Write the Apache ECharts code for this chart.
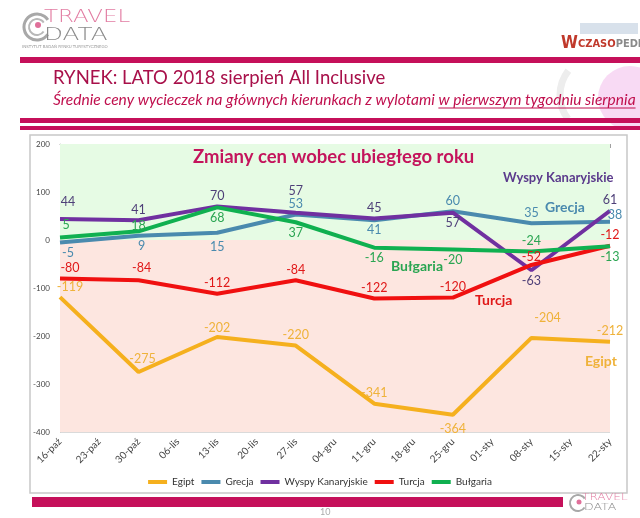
<!DOCTYPE html>
<html><head><meta charset="utf-8">
<script src="https://cdn.jsdelivr.net/npm/echarts@6/dist/echarts.min.js"></script>
<style>html,body{margin:0;padding:0;background:#fff}#c{width:640px;height:518px}</style>
</head><body><div id="c"></div>
<script>
// ---- data ----
const categories = ['16-paź','23-paź','30-paź','06-lis','13-lis','20-lis','27-lis','04-gru','11-gru','18-gru','25-gru','01-sty','08-sty','15-sty','22-sty'];
const egipt    = [-119,null,-275,null,-202,null,-220,null,-341,null,-364,null,-204,null,-212];
const grecja   = [-5,null,9,null,15,null,53,null,41,null,60,null,35,null,38];
const wyspy    = [44,null,41,null,70,null,57,null,45,null,57,null,-63,null,61];
const turcja   = [-80,null,-84,null,-112,null,-84,null,-122,null,-120,null,-52,null,-12];
const bulgaria = [5,null,18,null,68,null,37,null,-16,null,-20,null,-24,null,-13];
const seriesNames = ['Egipt','Grecja','Wyspy Kanaryjskie','Turcja','Bułgaria'];
const yTicks = {min:-400, max:200, interval:100};

// ---- styles (label placement per point) ----
const colors = {Egipt:'#F5B01E', Grecja:'#4A8AAE', Wyspy:'#7030A0', Turcja:'#F01010', Bulgaria:'#10B050'};
const labelColors = {Egipt:'#EFB23A', Grecja:'#4A8AAE', Wyspy:'#4E3F78', Turcja:'#E01818', Bulgaria:'#2AA552'};
const T='top', B='bottom';
const egiptPos = [[T,10,0],[T,4,-2],[T,0,2],[T,0,0],[T,0,0],[B,0,4],[T,16,-9],[T,0,0]];
const grecjaPos = [[B,8,0],[B,3,0],[B,0,4],[T,0,0],[B,0,-1],[T,0,0],[T,0,0],[T,5,4]];
const wyspyPos = [[T,8,-6],[T,0,0],[T,0,0],[T,0,-11],[T,0,0],[B,0,0],[B,0,0],[T,0,0]];
const turcjaPos = [[T,10,0],[T,3,-2],[T,0,0],[T,0,0],[T,0,0],[T,0,0],[T,0,3],[T,0,0]];
const bulgariaPos = [[T,6,-2],[T,0,5],[B,0,0],[B,0,0],[B,0,0],[B,0,0],[T,0,0],[B,0,0]];

const FONT = 'Lato';

function build(values, pos){
  let k = 0;
  return values.map(v => {
    if (v === null) return null;
    const p = pos[k++];
    return {value: v, label: {position: p[0], offset: [p[1], p[2]]}};
  });
}
function mkSeries(name, values, pos, col, lc){
  return {
    name: name, type: 'line', xAxisIndex: 0, connectNulls: true,
    data: build(values, pos), showSymbol: true, showAllSymbol: true,
    symbol: 'circle', symbolSize: 0.1,
    lineStyle: {color: col, width: 4}, itemStyle: {color: col},
    label: {show: true, color: lc, fontSize: 12.5, fontFamily: FONT, distance: 4},
    emphasis: {disabled: true}, z: 3
  };
}

// text measuring for the subtitle
const ctx = document.createElement('canvas').getContext('2d');
function tw(font, s){ ctx.font = font; return ctx.measureText(s).width; }
const sub1 = 'Średnie ceny wycieczek na głównych kierunkach z wylotami ';
const sub2 = 'w pierwszym tygodniu sierpnia';
const w0 = tw('italic 14.5px ' + FONT, sub1 + sub2);
const subSize = 14.5 * 583 / w0;
const subFont = 'italic ' + subSize.toFixed(2) + 'px ' + FONT;
const sub1w = tw(subFont, sub1);
const sub2w = tw(subFont, sub2);

const chart = echarts.init(document.getElementById('c'), null, {renderer: 'canvas'});

const g = [];
// slide header
g.push({type:'rect', shape:{x:20,y:57,width:620,height:6}, style:{fill:'#C5105A'}, z:1});
g.push({type:'rect', shape:{x:20,y:118,width:620,height:5}, style:{fill:'#C5105A'}, z:1});
g.push({type:'rect', shape:{x:20,y:126,width:620,height:4}, style:{fill:'#C5105A'}, z:1});
// right globe decoration
g.push({type:'circle', shape:{cx:630,cy:98,r:32}, style:{fill:'#F6CDF0', opacity:0.75}, z:0});
g.push({type:'arc', shape:{cx:600,cy:95,r:40,startAngle:2.5,endAngle:3.8}, style:{stroke:'#EDEDED', lineWidth:7, fill:'none'}, z:0});
// Travel Data logo
g.push({type:'arc', shape:{cx:37,cy:27,r:13,startAngle:0.6,endAngle:5.7}, style:{fill:'none', stroke:'#A8A8A8', lineWidth:3}, z:1});
g.push({type:'arc', shape:{cx:37,cy:27,r:8,startAngle:0.6,endAngle:5.7}, style:{fill:'none', stroke:'#B8B8B8', lineWidth:2}, z:1});
g.push({type:'circle', shape:{cx:38,cy:25,r:3}, style:{fill:'#E0709A'}, z:1});
g.push({type:'text', x:44, y:9, scaleX:1.35, style:{text:'TRAVEL', fill:'#E27CA2', font:'300 17px "DejaVu Sans"'}, z:2});
g.push({type:'text', x:44, y:27, scaleX:1.45, style:{text:'DATA', fill:'#8A8A8A', font:'300 17px "DejaVu Sans"'}, z:2});
g.push({type:'text', left:22, top:45, style:{text:'INSTYTUT BADAŃ RYNKU TURYSTYCZNEGO', fill:'#999', font:'4px "DejaVu Sans"'}, z:2});
// Wczasopedia logo
g.push({type:'rect', shape:{x:580,y:23,width:58,height:11}, style:{fill:'#C8D4E2', opacity:0.7}, z:1});
g.push({type:'text', x:561, y:35, style:{text:'W', fill:'#C0392B', font:'bold 17px "DejaVu Sans Condensed", "DejaVu Sans"'}, z:2});
g.push({type:'text', x:578, y:39, style:{text:'{a|CZASO}{b|PEDIA}', rich:{
  a:{fill:'#C0392B', font:'bold 11px "DejaVu Sans Condensed", "DejaVu Sans"'},
  b:{fill:'#8A8A8A', font:'bold 11px "DejaVu Sans Condensed", "DejaVu Sans"'}}}, z:2});
// titles
g.push({type:'text', left:53, top:69, style:{text:'RYNEK: LATO 2018 sierpień All Inclusive', fill:'#A8104A', font:'18.5px ' + FONT}, z:2});
g.push({type:'text', x:53, y:92, style:{text:sub1, fill:'#C0104E', font:subFont}, z:2});
g.push({type:'text', x:53 + sub1w, y:92, style:{text:sub2, fill:'#C0104E', font:subFont}, z:2});
g.push({type:'line', shape:{x1:53 + sub1w, y1:108, x2:53 + sub1w + sub2w, y2:108}, style:{stroke:'#C0104E', lineWidth:1}, z:2});
// chart box
g.push({type:'rect', shape:{x:30,y:135,width:597,height:358}, style:{fill:'#fff', stroke:'#C8C8C8', lineWidth:1.5}, z:-20});
// bottom bar + page number + small logo
g.push({type:'rect', shape:{x:32,y:497,width:531,height:10}, style:{fill:'#C5105A'}, z:1});
g.push({type:'text', left:320, top:508, style:{text:'10', fill:'#AAA', font:'9px ' + FONT}, z:2});
g.push({type:'arc', shape:{cx:578,cy:503,r:8,startAngle:0.6,endAngle:5.7}, style:{fill:'none', stroke:'#A8A8A8', lineWidth:2}, z:1});
g.push({type:'circle', shape:{cx:579,cy:502,r:2.5}, style:{fill:'#E0709A'}, z:1});
g.push({type:'text', x:582, y:493, scaleX:1.35, style:{text:'TRAVEL', fill:'#E27CA2', font:'300 9px "DejaVu Sans"'}, z:2});
g.push({type:'text', x:584, y:503, scaleX:1.4, style:{text:'DATA', fill:'#8A8A8A', font:'300 9px "DejaVu Sans"'}, z:2});
// chart title + series name annotations
g.push({type:'text', left:193, top:148, style:{text:'Zmiany cen wobec ubiegłego roku', fill:'#C4145C', font:'bold 18.5px ' + FONT}, z:5});
g.push({type:'text', left:503, top:171, style:{text:'Wyspy Kanaryjskie', fill:'#5B3A8C', font:'bold 13px ' + FONT}, z:5});
g.push({type:'text', left:545, top:200, style:{text:'Grecja', fill:'#4A8AAE', font:'bold 14px ' + FONT}, z:5});
g.push({type:'text', left:391, top:259, style:{text:'Bułgaria', fill:'#2AA552', font:'bold 14px ' + FONT}, z:5});
g.push({type:'text', left:475, top:293, style:{text:'Turcja', fill:'#E01818', font:'bold 14px ' + FONT}, z:5});
g.push({type:'text', left:585, top:354, style:{text:'Egipt', fill:'#EFB23A', font:'bold 14px ' + FONT}, z:5});

const option = {
  animation: false,
  textStyle: {fontFamily: FONT},
  graphic: g,
  grid: {left: 60, right: 30, top: 144, bottom: 86, containLabel: false},
  legend: {
    data: seriesNames, top: 472, left: 'center',
    icon: 'rect', itemWidth: 19, itemHeight: 4, itemGap: 7,
    textStyle: {fontSize: 10, color: '#333', fontFamily: FONT}
  },
  xAxis: [
    {type: 'category', data: categories, boundaryGap: false, position: 'bottom',
     axisLine: {show: false}, axisTick: {show: false},
     axisLabel: {rotate: 45, fontSize: 10, color: '#444', margin: 8, interval: 0, fontFamily: FONT},
     splitLine: {show: false}},
    {type: 'category', data: categories, boundaryGap: false, position: 'top',
     axisLine: {show: true, onZero: true, lineStyle: {color: '#A0A0A0', width: 1}},
     axisTick: {show: true, inside: true, length: 4, alignWithLabel: true, lineStyle: {color: '#A0A0A0'}},
     axisLabel: {show: false}, splitLine: {show: false}}
  ],
  yAxis: {
    type: 'value', min: yTicks.min, max: yTicks.max, interval: yTicks.interval,
    axisLine: {show: true, lineStyle: {color: '#C8C8C8'}}, axisTick: {show: false},
    axisLabel: {fontSize: 8, color: '#444', margin: 10, fontFamily: FONT},
    splitLine: {lineStyle: {color: '#DADADA'}}
  },
  series: [
    {type: 'line', data: [], z: -1, silent: true, xAxisIndex: 0,
     markArea: {silent: true, data: [
       [{yAxis: 0, itemStyle: {color: '#E6FBE4'}}, {yAxis: 200}],
       [{yAxis: -400, itemStyle: {color: '#FDE6E0'}}, {yAxis: 0}]
     ]}},
    mkSeries(seriesNames[0], egipt, egiptPos, colors.Egipt, labelColors.Egipt),
    mkSeries(seriesNames[1], grecja, grecjaPos, colors.Grecja, labelColors.Grecja),
    mkSeries(seriesNames[2], wyspy, wyspyPos, colors.Wyspy, labelColors.Wyspy),
    mkSeries(seriesNames[3], turcja, turcjaPos, colors.Turcja, labelColors.Turcja),
    mkSeries(seriesNames[4], bulgaria, bulgariaPos, colors.Bulgaria, labelColors.Bulgaria)
  ]
};
chart.setOption(option);
</script></body></html>
